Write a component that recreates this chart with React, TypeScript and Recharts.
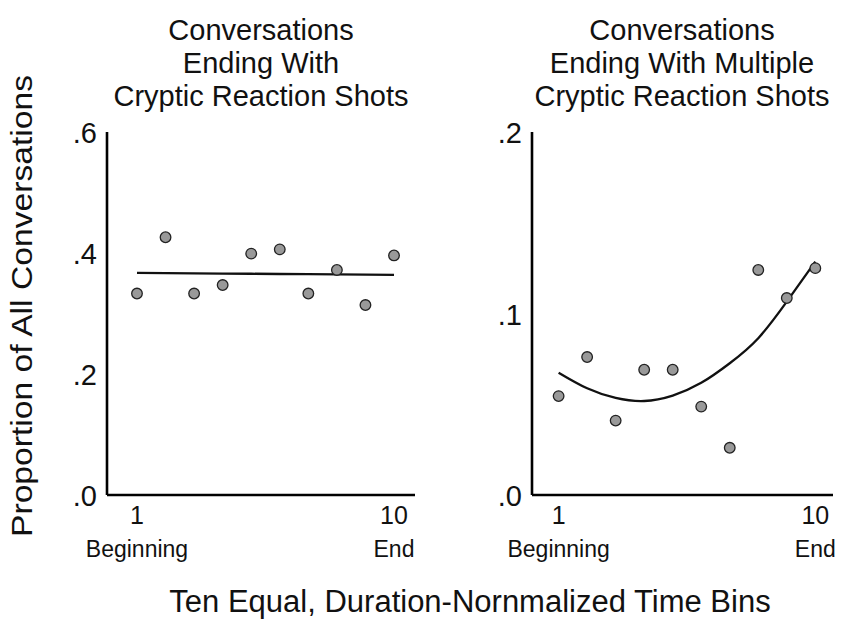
import React from 'react';
import { ComposedChart, Scatter, Line, XAxis, YAxis } from 'recharts';

const bins = [1, 2, 3, 4, 5, 6, 7, 8, 9, 10];
const leftValues = [0.333, 0.426, 0.333, 0.347, 0.399, 0.406, 0.333, 0.372, 0.314, 0.396];
const leftFit = [0.367, 0.3667, 0.3663, 0.366, 0.3657, 0.3653, 0.365, 0.3647, 0.3643, 0.364];
const rightValues = [0.0545, 0.076, 0.041, 0.069, 0.069, 0.0487, 0.026, 0.124, 0.1085, 0.125];
const rightFit = [0.0674, 0.0588, 0.0535, 0.0518, 0.0548, 0.0618, 0.0726, 0.0864, 0.1065, 0.1286];
const xTicks = [1, 10];
const xTickNames = ['Beginning', 'End'];
const leftYTicks = [0, 0.2, 0.4, 0.6];
const rightYTicks = [0, 0.1, 0.2];
const leftTitle = ['Conversations', 'Ending With', 'Cryptic Reaction Shots'];
const rightTitle = ['Conversations', 'Ending With Multiple', 'Cryptic Reaction Shots'];
const yAxisTitle = 'Proportion of All Conversations';
const xAxisTitle = 'Ten Equal, Duration-Nornmalized Time Bins';

const FONT = '"Liberation Sans", Arial, Helvetica, sans-serif';

const leftData = bins.map((b, i) => ({ x: b, y: leftValues[i], fit: leftFit[i] }));
const rightData = bins.map((b, i) => ({ x: b, y: rightValues[i], fit: rightFit[i] }));

const fmtY = (v: number) => v.toFixed(1).replace(/^0/, '');

const YTick = (props: any) => {
  const { x, y, payload } = props;
  return (
    <text x={x - 10} y={y + 11} textAnchor="end" fontSize={29} fontFamily={FONT} fill="#111">
      {fmtY(payload.value)}
    </text>
  );
};

const XTick = (props: any) => {
  const { x, y, payload } = props;
  const idx = xTicks.indexOf(payload.value);
  return (
    <g>
      <text x={x} y={y + 29} textAnchor="middle" fontSize={25} fontFamily={FONT} fill="#111">
        {payload.value}
      </text>
      <text x={x} y={y + 62} textAnchor="middle" fontSize={23} fontFamily={FONT} fill="#111">
        {idx >= 0 ? xTickNames[idx] : ''}
      </text>
    </g>
  );
};

const DotShape = (props: any) => {
  const { cx, cy } = props;
  if (cx == null || cy == null) return null;
  return <circle cx={cx} cy={cy} r={5.3} fill="#999999" stroke="#222" strokeWidth={1.3} />;
};

const Panel = ({ data, width, margin, xDomain, yDomain, yTicks, lineType }: any) => (
  <ComposedChart width={width} height={619} data={data} margin={margin}>
    <XAxis
      dataKey="x"
      type="number"
      domain={xDomain}
      ticks={xTicks}
      allowDataOverflow
      height={1}
      tickSize={0}
      tickMargin={0}
      tickLine={false}
      axisLine={{ stroke: '#000', strokeWidth: 2.6 }}
      tick={<XTick />}
      interval={0}
    />
    <YAxis
      type="number"
      domain={yDomain}
      ticks={yTicks}
      allowDataOverflow
      width={1}
      tickSize={0}
      tickMargin={0}
      tickLine={false}
      axisLine={{ stroke: '#000', strokeWidth: 2.6 }}
      tick={<YTick />}
      interval={0}
    />
    <Line
      dataKey="fit"
      type={lineType}
      stroke="#111"
      strokeWidth={2.3}
      dot={false}
      activeDot={false}
      isAnimationActive={false}
    />
    <Scatter dataKey="y" shape={<DotShape />} isAnimationActive={false} />
  </ComposedChart>
);

export default function App() {
  return (
    <div style={{ position: 'absolute', left: 0, top: 0, width: 845, height: 619, background: '#fff', fontFamily: FONT }}>
      <div style={{ position: 'absolute', left: 0, top: 0 }}>
        <Panel
          data={leftData}
          width={430}
          margin={{ top: 132, left: 106, right: 15, bottom: 123 }}
          xDomain={[-0.05, 10.735]}
          yDomain={[0, 0.6]}
          yTicks={leftYTicks}
          lineType="linear"
        />
      </div>
      <div style={{ position: 'absolute', left: 430, top: 0 }}>
        <Panel
          data={rightData}
          width={415}
          margin={{ top: 132, left: 101, right: 12, bottom: 123 }}
          xDomain={[0.067, 10.62]}
          yDomain={[0, 0.2]}
          yTicks={rightYTicks}
          lineType="natural"
        />
      </div>
      <svg width={845} height={619} style={{ position: 'absolute', left: 0, top: 0, pointerEvents: 'none' }}>
        {leftTitle.map((t, i) => (
          <text key={'l' + i} x={261} y={40 + i * 33} textAnchor="middle" fontSize={29} fontFamily={FONT} fill="#111">
            {t}
          </text>
        ))}
        {rightTitle.map((t, i) => (
          <text key={'r' + i} x={682} y={40 + i * 33} textAnchor="middle" fontSize={29} fontFamily={FONT} fill="#111">
            {t}
          </text>
        ))}
        <text
          x={0}
          y={0}
          transform="translate(32, 306) rotate(-90)"
          textAnchor="middle"
          fontSize={29}
          fontFamily={FONT}
          fill="#111"
          textLength={462}
          lengthAdjust="spacingAndGlyphs"
        >
          {yAxisTitle}
        </text>
        <text x={470} y={612} textAnchor="middle" fontSize={31} fontFamily={FONT} fill="#111">
          {xAxisTitle}
        </text>
      </svg>
    </div>
  );
}
